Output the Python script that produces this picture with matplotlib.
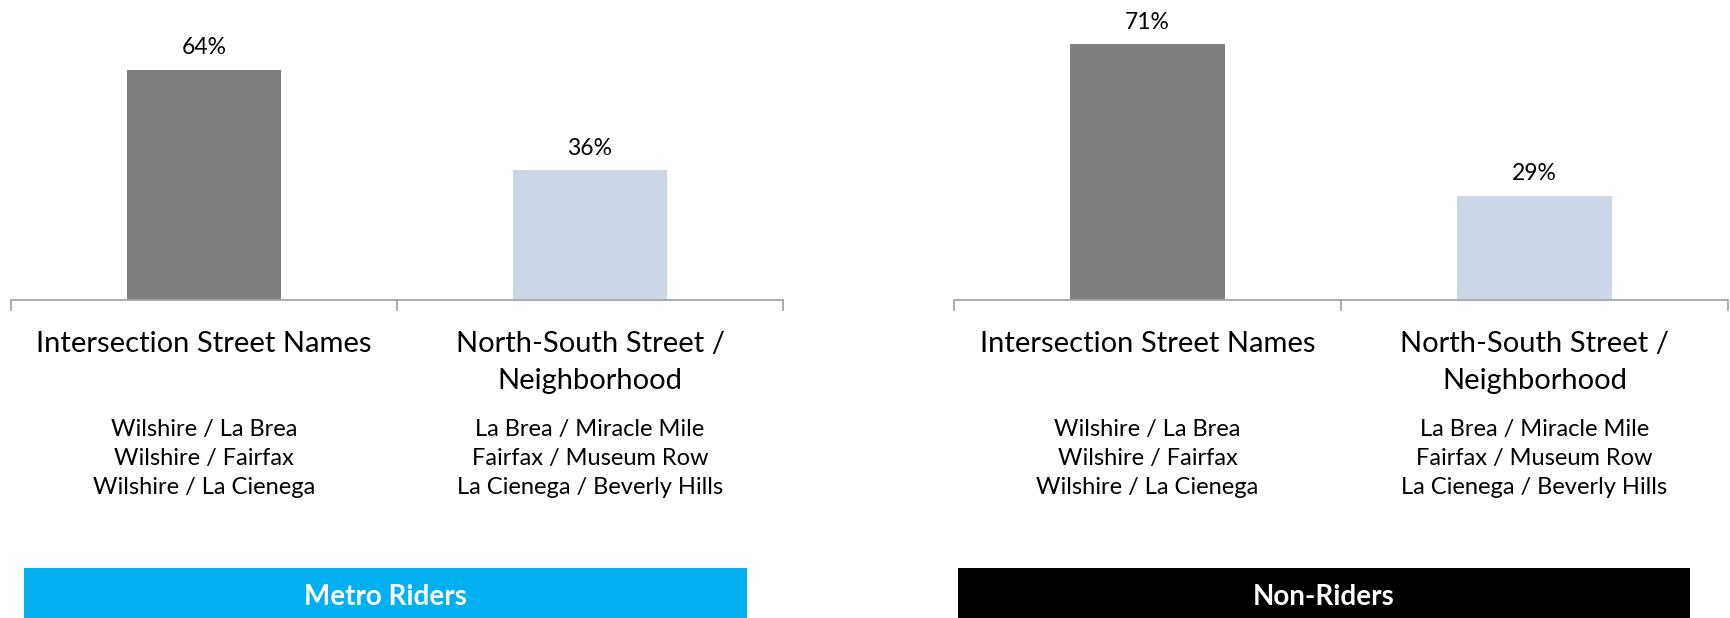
import matplotlib.pyplot as plt
from matplotlib.transforms import blended_transform_factory

# data
categories = ["Intersection Street Names", "North-South Street /\nNeighborhood"]
examples = ["Wilshire / La Brea\nWilshire / Fairfax\nWilshire / La Cienega",
            "La Brea / Miracle Mile\nFairfax / Museum Row\nLa Cienega / Beverly Hills"]
groups = ["Metro Riders", "Non-Riders"]
metro_vals = [64, 36]
nonrider_vals = [71, 29]

bar_colors = ["#7f7f7f", "#cdd6e7"]
box_colors = ["#00b0f0", "#000000"]
FONT = ["Lato", "DejaVu Sans"]

W, H = 1730, 618
fig = plt.figure(figsize=(W / 100, H / 100), dpi=100)


def px_axes(x0, x1, y_top, y_bot):
    return fig.add_axes([x0 / W, 1 - y_bot / H, (x1 - x0) / W, (y_bot - y_top) / H])


def panel(x0, x1, vals, group, color, bx0, bx1):
    ax = px_axes(x0, x1, 0, 300)
    xs = range(len(vals))
    ax.bar(xs, vals, width=0.4, color=bar_colors, zorder=2)
    ax.set_xlim(-0.5, len(vals) - 0.5)
    ax.set_ylim(0, 300 / 3.6)
    for s in ["top", "left", "right"]:
        ax.spines[s].set_visible(False)
    ax.spines["bottom"].set_color("#a6a6a6")
    ax.spines["bottom"].set_linewidth(1.3)
    ax.set_yticks([])
    ax.set_xticks([-0.5, 0.5, 1.5])
    ax.set_xticklabels([])
    ax.tick_params(axis="x", direction="out", length=8, width=1.3, color="#a6a6a6")
    tr = blended_transform_factory(ax.transData, ax.transAxes)
    for x, v, cat, ex in zip(xs, vals, categories, examples):
        ax.annotate(f"{v}%", (x, v), xytext=(0, 16), textcoords="offset points",
                    ha="center", va="center", fontsize=16.5, family=FONT)
        ax.annotate(cat, (x, 0), xycoords=tr, xytext=(0, -22.5), textcoords="offset points",
                    ha="center", va="top", fontsize=21, family=FONT, linespacing=1.52)
        ax.annotate(ex, (x, 0), xycoords=tr, xytext=(0, -86), textcoords="offset points",
                    ha="center", va="top", fontsize=17, family=FONT, linespacing=1.47)
    bax = px_axes(bx0, bx1, 568, 618)
    bax.set_facecolor(color)
    for s in bax.spines.values():
        s.set_visible(False)
    bax.set_xticks([])
    bax.set_yticks([])
    bax.text(0.5, 0.42, group, ha="center", va="center", color="white",
             fontsize=20, fontweight="bold", family=FONT, transform=bax.transAxes)


panel(11, 783, metro_vals, groups[0], box_colors[0], 24, 747)
panel(954, 1728, nonrider_vals, groups[1], box_colors[1], 958, 1690)

fig.savefig("out.png", dpi=100)
